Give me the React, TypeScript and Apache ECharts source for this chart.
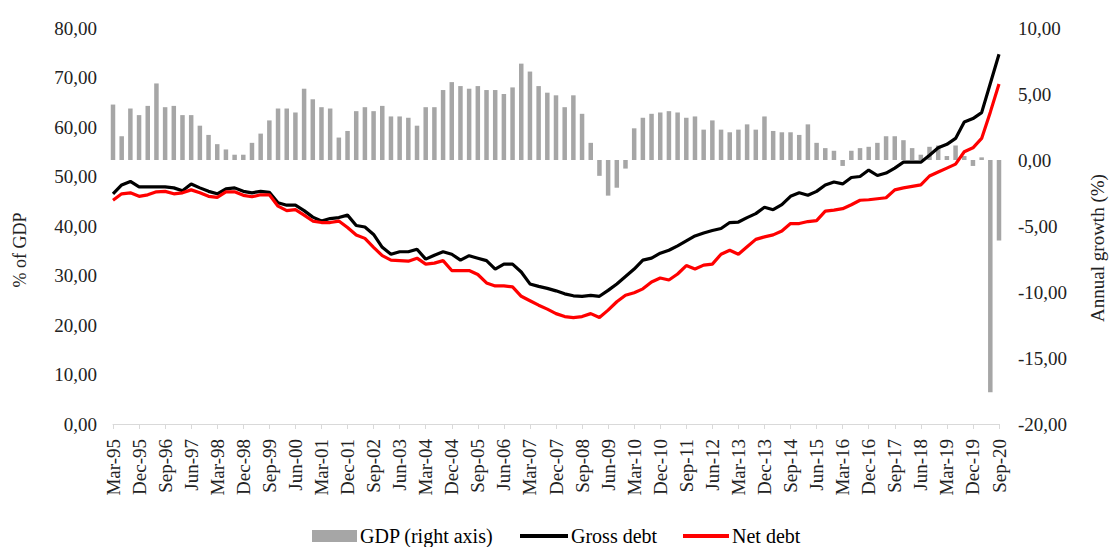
import React, { useEffect, useRef } from "react";
import * as echarts from "echarts";

const months = ["Mar", "Jun", "Sep", "Dec"];
const categories: string[] = [];
for (let y = 1995; y <= 2020; y++) {
  for (let q = 0; q < 4; q++) {
    if (y === 2020 && q > 2) break;
    categories.push(`${months[q]}-${String(y % 100).padStart(2, "0")}`);
  }
}

const gdpGrowth = [
  4.2, 1.8, 3.9, 3.4, 4.1, 5.8, 4.0, 4.1, 3.4, 3.4,
  2.6, 1.9, 1.2, 0.8, 0.4, 0.4, 1.3, 2.0, 3.0, 3.9,
  3.9, 3.6, 5.4, 4.6, 4.0, 3.9, 1.7, 2.2, 3.7, 4.0,
  3.7, 4.1, 3.3, 3.3, 3.2, 2.6, 4.0, 4.0, 5.3, 5.9,
  5.6, 5.4, 5.6, 5.3, 5.3, 5.0, 5.5, 7.3, 6.7, 5.6,
  5.1, 4.9, 4.0, 4.9, 3.5, 1.3, -1.2, -2.7, -2.1, -0.65,
  2.4, 3.2, 3.5, 3.6, 3.7, 3.6, 3.2, 3.3, 2.3, 3.0,
  2.3, 2.1, 2.3, 2.7, 2.3, 3.3, 2.2, 2.1, 2.1, 1.9,
  2.7, 1.3, 0.9, 0.7, -0.45, 0.7, 0.9, 1.0, 1.3, 1.8,
  1.8, 1.5, 0.9, 0.4, 1.0, 1.1, 0.3, 1.1, 0.3, -0.45,
  0.2, -17.6, -6.1,
];

const grossDebt = [
  46.5, 48.3, 49.0, 47.9, 47.9, 47.9, 47.9, 47.7, 47.1, 48.5,
  47.7, 47.0, 46.5, 47.5, 47.7, 47.0, 46.7, 47.0, 46.8, 44.7,
  44.2, 44.2, 43.1, 41.8, 41.0, 41.5, 41.7, 42.2, 40.1, 39.8,
  38.3, 35.7, 34.3, 34.8, 34.8, 35.3, 33.3, 34.1, 34.8, 34.3,
  33.1, 34.0, 33.5, 33.0, 31.3, 32.3, 32.3, 30.7, 28.3, 27.8,
  27.4, 26.9, 26.3, 25.9, 25.8, 26.0, 25.8, 27.0, 28.3, 29.8,
  31.3, 33.1, 33.5, 34.5, 35.1, 36.0, 37.0, 38.0, 38.6, 39.1,
  39.5, 40.7, 40.8, 41.7, 42.5, 43.8, 43.3, 44.3, 46.0, 46.7,
  46.2, 47.0, 48.3, 48.9, 48.5, 49.8, 50.0, 51.3, 50.2, 50.7,
  51.7, 52.9, 52.9, 52.9, 54.3, 55.8, 56.5, 57.7, 61.0, 61.7,
  62.9, 68.8, 74.7,
];

const netDebt = [
  45.2, 46.5, 46.7, 46.0, 46.3, 46.9, 47.0, 46.5, 46.7, 47.3,
  46.7, 46.0, 45.8, 46.9, 46.9, 46.2, 45.9, 46.3, 46.3, 44.0,
  43.1, 43.3, 42.2, 41.0, 40.7, 40.7, 41.0, 39.7, 38.2, 37.5,
  35.7, 34.0, 33.1, 33.0, 32.9, 33.5, 32.3, 32.5, 33.0, 31.0,
  31.0, 31.0, 30.2, 28.5, 27.9, 27.9, 27.7, 25.8, 24.9, 24.0,
  23.2, 22.3, 21.7, 21.5, 21.7, 22.3, 21.5, 23.0, 24.7, 26.0,
  26.5, 27.3, 28.7, 29.5, 29.1, 30.3, 32.0, 31.3, 32.1, 32.3,
  34.3, 35.1, 34.3, 35.8, 37.3, 37.8, 38.2, 39.0, 40.5, 40.5,
  40.9, 41.1, 43.0, 43.2, 43.5, 44.3, 45.2, 45.3, 45.5, 45.7,
  47.3, 47.7, 48.0, 48.3, 50.1, 50.9, 51.7, 52.5, 55.0, 55.8,
  57.7, 63.0, 68.7,
];

const FONT = "'Liberation Serif', 'Times New Roman', serif";
const fmt = (v: number) => v.toFixed(2).replace(".", ",");

export default function App() {
  const ref = useRef<HTMLDivElement>(null);
  useEffect(() => {
    if (!ref.current) return;
    const chart = echarts.init(ref.current, undefined, { renderer: "svg" });
    const legendText = { fontFamily: FONT, fontSize: 20, color: "#000", lineHeight: 20, padding: [0, 0, 0, -2] };
    chart.setOption({
      animation: false,
      backgroundColor: "#fff",
      textStyle: { fontFamily: FONT },
      grid: { left: 113, top: 28, width: 886, height: 396, containLabel: false },
      legend: [
        {
          data: [{ name: "GDP (right axis)", icon: "rect" }],
          left: 312, top: 526, itemWidth: 45, itemHeight: 12, padding: 0,
          textStyle: legendText,
        },
        {
          data: [{ name: "Gross debt", icon: "rect" }],
          left: 520, top: 526, itemWidth: 48, itemHeight: 4, padding: 0,
          textStyle: legendText,
        },
        {
          data: [{ name: "Net debt", icon: "rect" }],
          left: 683, top: 526, itemWidth: 46, itemHeight: 4, padding: 0,
          textStyle: legendText,
        },
      ],
      xAxis: {
        type: "category",
        data: categories,
        boundaryGap: false,
        axisLine: { lineStyle: { color: "#d9d9d9", width: 1 } },
        axisTick: { show: true, interval: 2, length: 5, lineStyle: { color: "#d9d9d9" } },
        axisLabel: {
          interval: 2, rotate: 90, margin: 15,
          fontFamily: FONT, fontSize: 19, color: "#222",
        },
        splitLine: { show: false },
      },
      yAxis: [
        {
          type: "value", min: 0, max: 80, interval: 10,
          axisLine: { show: false }, axisTick: { show: false },
          splitLine: { show: false },
          axisLabel: { formatter: fmt, margin: 16, fontFamily: FONT, fontSize: 19, color: "#222" },
        },
        {
          type: "value", min: -20, max: 10, interval: 5,
          axisLine: { show: false }, axisTick: { show: false },
          splitLine: { show: false },
          axisLabel: { formatter: fmt, margin: 19, fontFamily: FONT, fontSize: 19, color: "#222" },
        },
      ],
      graphic: [
        {
          type: "text", x: 20, y: 250, rotation: Math.PI / 2,
          style: { text: "% of GDP", fontFamily: FONT, fontSize: 18, fill: "#222", align: "center", verticalAlign: "middle" },
        },
        {
          type: "text", x: 1097, y: 248, rotation: Math.PI / 2,
          style: { text: "Annual growth (%)", fontFamily: FONT, fontSize: 19, fill: "#222", align: "center", verticalAlign: "middle" },
        },
      ],
      series: [
        {
          name: "GDP (right axis)", type: "bar", yAxisIndex: 1, data: gdpGrowth,
          barWidth: 4.5, clip: false, itemStyle: { color: "#a6a6a6" },
        },
        {
          name: "Gross debt", type: "line", yAxisIndex: 0, data: grossDebt,
          symbol: "none", lineStyle: { color: "#000", width: 3.2 }, itemStyle: { color: "#000" },
        },
        {
          name: "Net debt", type: "line", yAxisIndex: 0, data: netDebt,
          symbol: "none", lineStyle: { color: "#ff0000", width: 3.2 }, itemStyle: { color: "#ff0000" },
        },
      ],
    });
    return () => chart.dispose();
  }, []);
  return (
    <div
      ref={ref}
      style={{ position: "absolute", left: 0, top: 0, width: 1109, height: 547 }}
    />
  );
}
